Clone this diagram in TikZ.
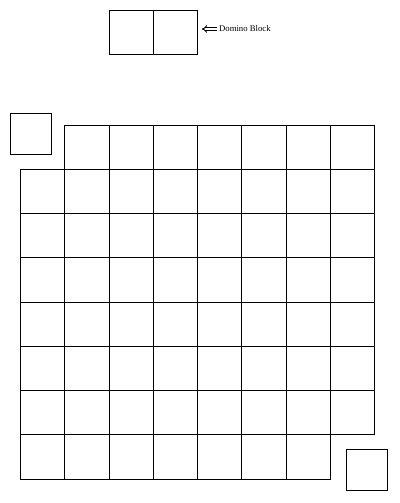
\documentclass[tikz,border=0pt]{standalone}
\usepackage{fontspec}
\setmainfont{Liberation Serif}
\usetikzlibrary{arrows.meta}

\begin{document}
\begin{tikzpicture}[
		x=44.25pt, y=-44.25pt,
		cell/.style={draw, line width=0.8pt, minimum size=44.25pt, inner sep=0pt},
		removed/.style={draw, line width=0.8pt, minimum size=41pt, inner sep=0pt},
		domarrow/.style={double, double distance=1.6pt, line width=0.9pt, -{Implies[length=3pt]}}
		]
		\useasboundingbox (-0.463,-2.825) rectangle (8.576,8.542);
		
		% Domino block
		\node[cell] (dom1) at (2.5,-2.09) {};
		\node[cell] (dom2) at (3.5,-2.09) {};
		
		% Board (corners (0,0) and (7,7) removed)
		\foreach \c in {1,...,7}
			\node[cell] (c0\c) at (\c+0.5,0.5) {};
		\foreach \r in {1,...,6}
			\foreach \c in {0,...,7}
				\node[cell] (c\r\c) at (\c+0.5,\r+0.5) {};
		\foreach \c in {0,...,6}
			\node[cell] (c7\c) at (\c+0.5,7.5) {};
		
		% Removed squares
		\node[removed] (cut1) at (0.235,0.199) {};
		\node[removed] (cut2) at (7.835,7.785) {};
		
		% Labels
		\node[anchor=west, inner sep=2pt, font=\fontsize{8.7}{10}\selectfont] (lbl) at (4.44,-2.17) {Domino Block};
		\coordinate (tip) at (4.10,-2.17);
		\draw[domarrow] (lbl.west) -- (tip);
		
	\end{tikzpicture}
\end{document}
